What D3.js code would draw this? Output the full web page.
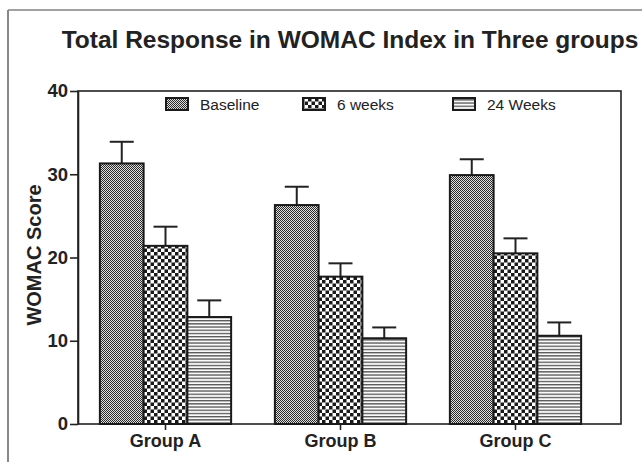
<!DOCTYPE html>
<html><head><meta charset="utf-8">
<script src="https://cdn.jsdelivr.net/npm/d3@7"></script>
<style>body{margin:0;background:#fff}svg{display:block}text{font-family:"Liberation Sans",Arial,sans-serif;fill:#222}</style>
</head><body>
<script>
const groups = ["Group A", "Group B", "Group C"];
const seriesNames = ["Baseline", "6 weeks", "24 Weeks"];
const baseline = [31.3, 26.3, 29.9];
const weeks6 = [21.4, 17.7, 20.5];
const weeks24 = [12.85, 10.3, 10.6];
const errBaseline = [2.6, 2.2, 1.9];
const errWeeks6 = [2.3, 1.6, 1.8];
const errWeeks24 = [2.0, 1.3, 1.6];
const yTicks = [0, 10, 20, 30, 40];

(function(){
const W = 642, H = 462;
const svg = d3.select("body").append("svg").attr("width", W).attr("height", H);
const defs = svg.append("defs");

const p1 = defs.append("pattern").attr("id","pBase").attr("patternUnits","userSpaceOnUse").attr("width",2).attr("height",2);
p1.append("rect").attr("width",2).attr("height",2).attr("fill","#e0e0e0");
p1.append("rect").attr("width",1).attr("height",1).attr("fill","#2a2a2a");
p1.append("rect").attr("x",1).attr("y",1).attr("width",1).attr("height",1).attr("fill","#2a2a2a");

const p2 = defs.append("pattern").attr("id","p6").attr("patternUnits","userSpaceOnUse").attr("width",7).attr("height",7);
p2.append("rect").attr("width",7).attr("height",7).attr("fill","#fff");
p2.append("rect").attr("width",3.5).attr("height",3.5).attr("fill","#1a1a1a");
p2.append("rect").attr("x",3.5).attr("y",3.5).attr("width",3.5).attr("height",3.5).attr("fill","#1a1a1a");

const p3 = defs.append("pattern").attr("id","p24").attr("patternUnits","userSpaceOnUse").attr("width",4).attr("height",3.2);
p3.append("rect").attr("width",4).attr("height",3.2).attr("fill","#fafafa");
p3.append("rect").attr("width",4).attr("height",1.3).attr("fill","#555");

const fills = ["url(#pBase)","url(#p6)","url(#p24)"];

svg.append("line").attr("x1",8).attr("y1",10).attr("x2",W).attr("y2",10).attr("stroke","#444").attr("stroke-width",1.2);
svg.append("line").attr("x1",8).attr("y1",10).attr("x2",8).attr("y2",H).attr("stroke","#888").attr("stroke-width",2);

svg.append("text").attr("x",350).attr("y",48).attr("text-anchor","middle")
  .attr("font-size",24.5).attr("font-weight","bold").text("Total Response in WOMAC Index in Three groups");

const pLeft = 78, pRight = 621, pTop = 91, pBottom = 424;
const y = d3.scaleLinear().domain([0,40]).range([pBottom, pTop]);
const x0 = d3.scaleBand().domain(groups).range([pLeft, pLeft + 3*175]).paddingInner(0.25).paddingOuter(0.125);
const x1 = d3.scaleBand().domain(seriesNames).range([0, x0.bandwidth()]);

const values = [baseline, weeks6, weeks24];
const errs = [errBaseline, errWeeks6, errWeeks24];
const data = [];
groups.forEach((g,i)=>seriesNames.forEach((s,j)=>data.push({g,s,j,v:values[j][i],e:errs[j][i]})));

svg.append("rect").attr("x",pLeft).attr("y",pTop).attr("width",pRight-pLeft).attr("height",pBottom-pTop)
  .attr("fill","none").attr("stroke","#222").attr("stroke-width",1.6);

const eb = svg.append("g").attr("stroke","#222").attr("stroke-width",2);
data.forEach(d=>{
  const cx = x0(d.g)+x1(d.s)+x1.bandwidth()/2;
  eb.append("line").attr("x1",cx).attr("x2",cx).attr("y1",y(d.v)).attr("y2",y(d.v+d.e));
  eb.append("line").attr("x1",cx-12).attr("x2",cx+12).attr("y1",y(d.v+d.e)).attr("y2",y(d.v+d.e));
});

svg.append("g").selectAll("rect").data(data).join("rect")
  .attr("x",d=>x0(d.g)+x1(d.s)).attr("width",x1.bandwidth())
  .attr("y",d=>y(d.v)).attr("height",d=>y(0)-y(d.v))
  .attr("fill",d=>fills[d.j]).attr("stroke","#1a1a1a").attr("stroke-width",2);

const ya = svg.append("g").attr("transform",`translate(${pLeft},0)`)
  .call(d3.axisLeft(y).tickValues(yTicks).tickSize(8).tickSizeOuter(0).tickPadding(2));
ya.select(".domain").attr("stroke","#222").attr("stroke-width",1.6);
ya.selectAll(".tick line").attr("stroke","#222").attr("stroke-width",1.6);
ya.selectAll(".tick text").attr("font-size",18.5).attr("font-weight","bold").attr("fill","#222")
  .attr("font-family","Liberation Sans, Arial, sans-serif");

const xa = svg.append("g").attr("transform",`translate(0,${pBottom})`)
  .call(d3.axisBottom(x0).tickSize(6).tickSizeOuter(0).tickPadding(4));
xa.select(".domain").remove();
xa.selectAll(".tick line").attr("stroke","#222").attr("stroke-width",1.6);
xa.selectAll(".tick text").attr("font-size",18).attr("font-weight","bold").attr("fill","#222")
  .attr("font-family","Liberation Sans, Arial, sans-serif");

svg.append("text").attr("transform","translate(41,255) rotate(-90)").attr("text-anchor","middle")
  .attr("font-size",20).attr("font-weight","bold").text("WOMAC Score");

const legX = [166, 303, 453];
seriesNames.forEach((s,j)=>{
  svg.append("rect").attr("x",legX[j]).attr("y",98).attr("width",22).attr("height",12)
    .attr("fill",fills[j]).attr("stroke","#1a1a1a").attr("stroke-width",2);
  svg.append("text").attr("x",legX[j]+34).attr("y",110).attr("font-size",15.5).text(s);
});
})();
</script>
</body></html>
